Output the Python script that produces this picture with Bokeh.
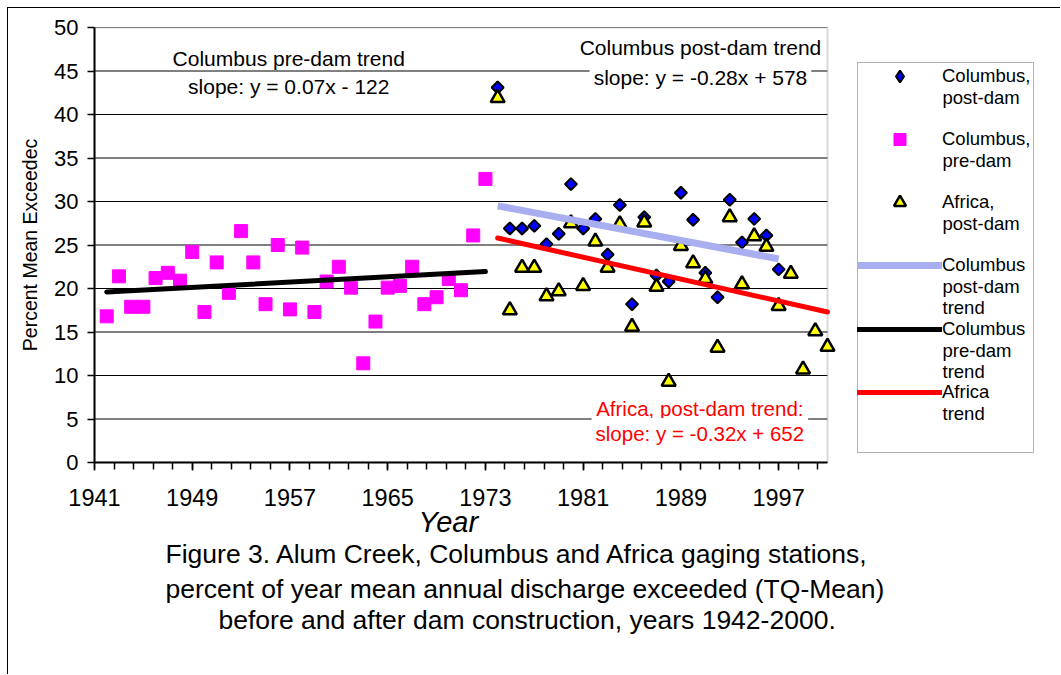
import numpy as np
from bokeh.plotting import figure
from bokeh.models import (Range1d, FixedTicker, Label, Legend, LegendItem, Title,
                          BoxAnnotation)
from bokeh.embed import file_html
from bokeh.resources import INLINE

FONT = "Liberation Sans"

# ---------------- data ----------------
pre_years = list(range(1942, 1974))
pre_values = [16.8, 21.4, 17.9, 17.9, 21.2, 21.8, 20.9, 24.2, 17.3, 23.0,
              19.5, 26.6, 23.0, 18.2, 25.0, 17.6, 24.7, 17.3, 20.8, 22.5,
              20.1, 11.4, 16.2, 20.1, 20.3, 22.5, 18.2, 19.0, 21.1, 19.8,
              26.1, 32.6]

col_post_years = list(range(1974, 1998))
col_post_values = [43.1, 26.9, 26.9, 27.2, 25.1, 26.3, 32.0, 26.9, 28.0, 23.9,
                   29.6, 18.2, 28.2, 21.5, 20.8, 31.0, 27.9, 21.8, 19.0, 30.2,
                   25.3, 28.0, 26.1, 22.2]

africa_years = list(range(1974, 2002))
africa_values = [41.9, 17.5, 22.4, 22.4, 19.1, 19.7, 27.5, 20.3, 25.4, 22.4,
                 27.4, 15.6, 27.6, 20.2, 9.3, 24.9, 22.9, 21.1, 13.2, 28.2,
                 20.5, 26.0, 24.8, 18.0, 21.7, 10.7, 15.1, 13.3]

pre_trend_years = [1942, 1973]
pre_trend_values = [19.6, 21.95]
col_trend_years = [1974, 1997]
col_trend_values = [29.5, 23.4]
africa_trend_years = [1974, 2001]
africa_trend_values = [25.8, 17.3]

x_tick_labels = [1941, 1949, 1957, 1965, 1973, 1981, 1989, 1997]
y_tick_labels = [0, 5, 10, 15, 20, 25, 30, 35, 40, 45, 50]
X_MIN, X_MAX = 1941, 2001
Y_MIN, Y_MAX = 0, 50

legend_labels = [["Columbus,", "post-dam"],
                 ["Columbus,", "pre-dam"],
                 ["Africa,", "post-dam"],
                 ["Columbus", "post-dam", "trend"],
                 ["Columbus", "pre-dam", "trend"],
                 ["Africa", "trend"]]

caption_lines = ["Figure 3.  Alum Creek, Columbus and Africa gaging stations,",
                 "percent of year mean annual discharge exceeded (TQ-Mean)",
                 "before and after dam construction, years 1942-2000."]

# ---------------- layout constants (pixels) ----------------
W, H = 1053, 667
LEFT, TOP, BOTTOM = 86, 19, 213
PAGE_OFF = 8                       # figure offset inside the page (margin + border)
AXIS_PX = 733                      # pixel length of the x axis
FRAME_H = H - TOP - BOTTOM
px_per_year = AXIS_PX / (X_MAX - X_MIN)
px_per_unit = FRAME_H / (Y_MAX - Y_MIN)
x_end = X_MAX + (W - LEFT - AXIS_PX) / px_per_year   # frame continues under the legend
FRAME_LEFT_PG = LEFT + PAGE_OFF
FRAME_BOTTOM_PG = TOP + PAGE_OFF + FRAME_H


def page_to_data(xp, yp):
    return (X_MIN + (xp - FRAME_LEFT_PG) / px_per_year,
            Y_MIN + (FRAME_BOTTOM_PG - yp) / px_per_unit)


p = figure(width=W, height=H, output_backend="svg", toolbar_location=None,
           x_range=Range1d(X_MIN, x_end), y_range=Range1d(Y_MIN, Y_MAX),
           min_border_left=LEFT, min_border_right=0,
           min_border_top=TOP, min_border_bottom=BOTTOM,
           background_fill_color="white", border_fill_color="white")
p.styles = {"margin-left": "7px", "margin-top": "7px",
            "border-left": "1px solid black", "border-top": "1px solid black"}

p.outline_line_color = None
p.xgrid.visible = False
p.ygrid.visible = False

# horizontal gridlines limited to the plotting area
p.segment(x0=X_MIN, x1=X_MAX, y0=y_tick_labels, y1=y_tick_labels,
          line_color="black", line_width=1, level="underlay")
# grey plot-area border
p.add_layout(BoxAnnotation(left=X_MIN, right=X_MAX, bottom=Y_MIN, top=Y_MAX,
                           fill_alpha=0, line_color="#808080", line_width=2,
                           level="underlay"))

minor = list(np.arange(X_MIN, X_MAX + 0.01, 1.6))
p.xaxis.ticker = FixedTicker(ticks=x_tick_labels, minor_ticks=minor)
p.xaxis.bounds = (X_MIN, X_MAX)
p.yaxis.ticker = FixedTicker(ticks=y_tick_labels, minor_ticks=[])

for ax in (p.xaxis[0], p.yaxis[0]):
    ax.axis_line_color = "black"
    ax.axis_line_width = 2
    ax.major_tick_in = 0
    ax.major_tick_line_color = "black"
    ax.major_tick_line_width = 1.5
    ax.minor_tick_in = 0
    ax.minor_tick_line_color = "black"
    ax.minor_tick_line_width = 1.5
    ax.major_label_text_font = FONT
    ax.major_label_text_color = "black"
    ax.axis_label_text_font = FONT
    ax.axis_label_text_color = "black"

p.xaxis.major_tick_out = 8
p.xaxis.minor_tick_out = 7
p.xaxis.major_label_text_font_size = "23.5px"
p.xaxis.major_label_standoff = 18

p.yaxis.major_tick_out = 7
p.yaxis.minor_tick_out = 0
p.yaxis.major_label_text_font_size = "22px"
p.yaxis.major_label_standoff = 9
p.yaxis.axis_label = "Percent Mean Exceedec"
p.yaxis.axis_label_text_font_size = "19.5px"
p.yaxis.axis_label_text_font_style = "normal"
p.yaxis.axis_label_standoff = 10

# ---------------- marks ----------------
# legend swatch for the diamond series (the legend ignores marker rotation);
# it sits under the first rotated-square marker, so it is hidden in the plot
r_col_key = p.scatter(col_post_years[:1], col_post_values[:1], marker="diamond", size=12,
                      fill_color="#0000FF", line_color="black", line_width=2)
r_col = p.scatter(col_post_years, col_post_values, marker="square", angle=np.pi / 4,
                  size=8.5, fill_color="#0000FF", line_color="black", line_width=2)
r_pre = p.scatter(pre_years, pre_values, marker="square", size=13,
                  fill_color="#FF00FF", line_color="#FF00FF", line_width=1)
r_afr = p.scatter(africa_years, africa_values, marker="triangle", size=14,
                  fill_color="#FFFF00", line_color="black", line_width=2.5)

r_ct = p.line(col_trend_years, col_trend_values, line_color="#A8AEF0", line_width=7)
r_pt = p.line(pre_trend_years, pre_trend_values, line_color="black", line_width=5,
              line_cap="round")
r_at = p.line(africa_trend_years, africa_trend_values, line_color="#FF0000", line_width=5,
              line_cap="round")

# ---------------- in-plot annotations ----------------
def add_label(x, y, text, color="black", bg=None, size="21px", align="center"):
    lab = Label(x=x, y=y, text=text, text_font=FONT, text_font_size=size,
                text_color=color, text_align=align, text_baseline="middle")
    if bg:
        lab.background_fill_color = bg
        lab.background_fill_alpha = 1.0
        lab.padding = 4
    p.add_layout(lab)

add_label(1956.9, 46.4, "Columbus pre-dam trend")
add_label(1956.9, 43.2, "slope: y = 0.07x - 122")
add_label(1990.6, 47.7, "Columbus post-dam trend", bg="white")
add_label(1990.6, 44.25, "slope: y = -0.28x + 578", bg="white")
add_label(1990.55, 6.2, "Africa, post-dam trend:", color="#FF0000", bg="white", size="20.5px")
add_label(1990.55, 3.33, "slope: y = -0.32x + 652", color="#FF0000", bg="white", size="20.5px")

# ---------------- titles below the axis ----------------
p.add_layout(Title(text="Year", align="left", offset=324, standoff=-10,
                   text_font=FONT, text_font_size="29px", text_font_style="italic",
                   text_color="black"), "below")
for txt, off, so in zip(caption_lines, [71, 71, 124], [8, -2, 0]):
    p.add_layout(Title(text=txt, align="left", offset=off, standoff=so,
                       text_font=FONT, text_font_size="26.5px", text_font_style="normal",
                       text_color="black"), "below")

# ---------------- legend ----------------
bx0, by0 = page_to_data(857, 452)
bx1, by1 = page_to_data(1033, 62)
p.add_layout(BoxAnnotation(left=bx0, right=bx1, bottom=by0, top=by1,
                           fill_color="white", fill_alpha=1.0,
                           line_color="black", line_width=1))

LINE_PX = 21                                   # legend text line pitch
GLYPH_H = 30
first_line_px = [76, 139, 202, 265, 329, 392]  # from top of the page
key_renderers = [r_col_key, r_pre, r_afr, r_ct, r_pt, r_at]
for lines, y1, rend in zip(legend_labels, first_line_px, key_renderers):
    loc_y = int(round(FRAME_BOTTOM_PG - (y1 + GLYPH_H / 2)))
    lg = Legend(items=[LegendItem(label=lines[0], renderers=[rend])],
                location=(857 - FRAME_LEFT_PG, loc_y), padding=0, spacing=0, margin=0,
                glyph_width=85, glyph_height=GLYPH_H, label_standoff=0,
                label_width=87, label_height=0,
                label_text_font=FONT, label_text_font_size="18.5px",
                label_text_color="black",
                border_line_color=None, background_fill_alpha=0.0)
    p.add_layout(lg)
    for k, extra in enumerate(lines[1:], start=1):
        lx, ly = page_to_data(942, y1 + k * LINE_PX)
        add_label(lx, ly, extra, size="18.5px", align="left")

open("out.html", "w").write(file_html(p, INLINE))
